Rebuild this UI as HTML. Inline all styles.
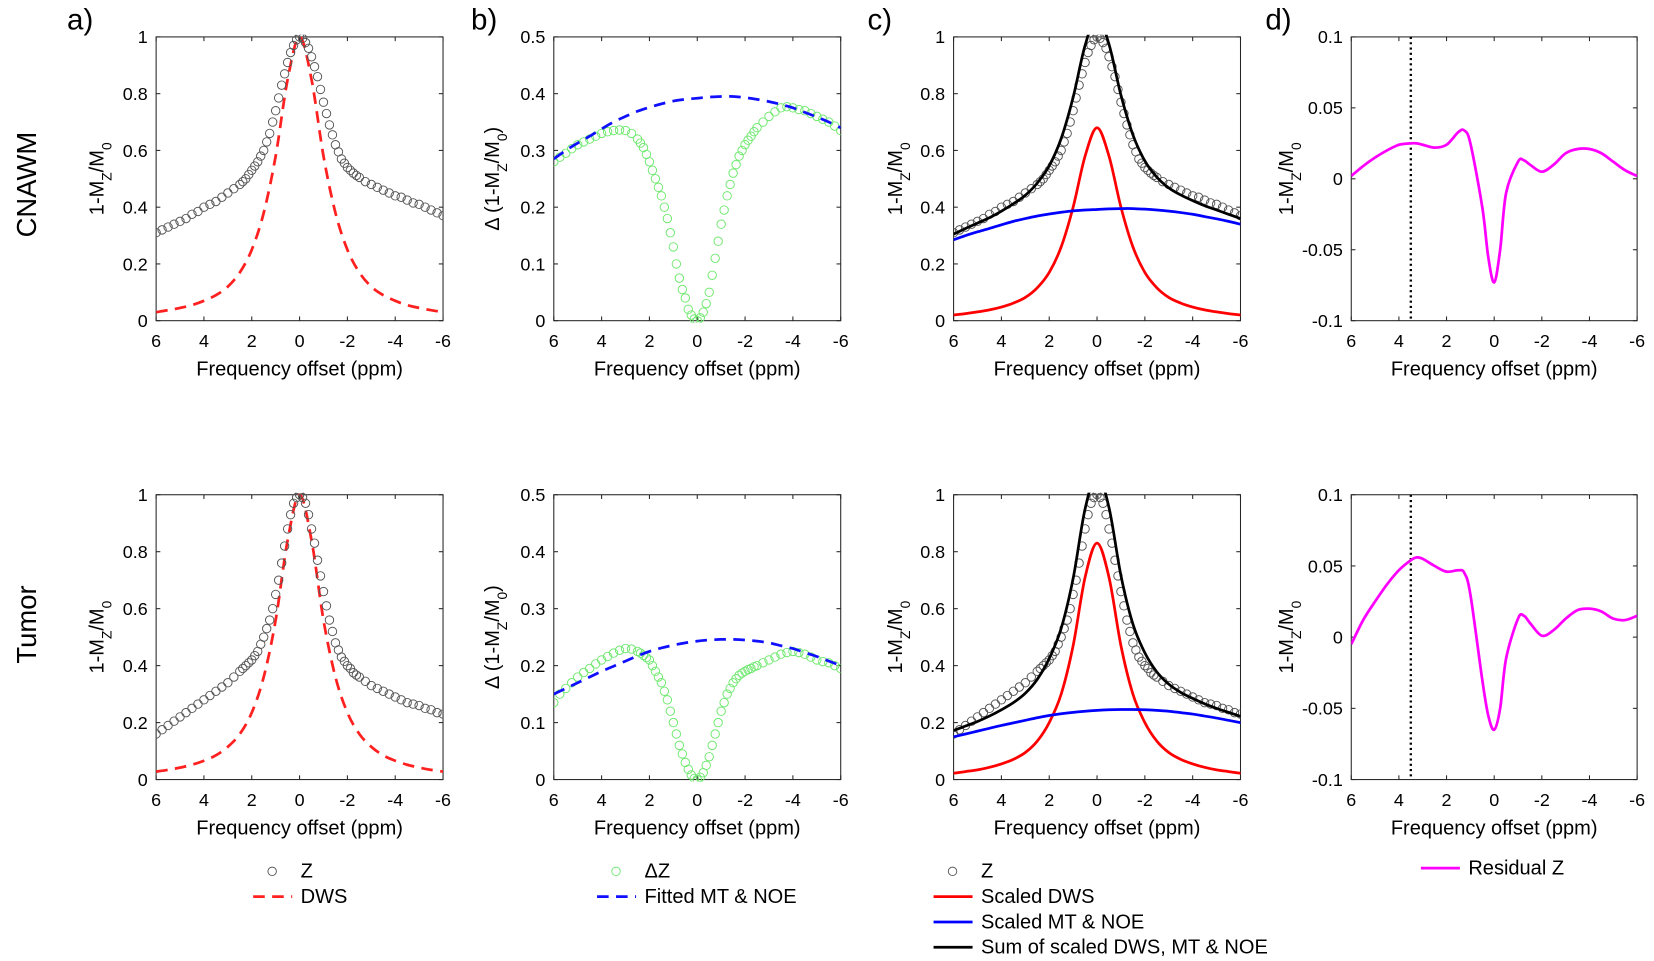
<!DOCTYPE html>
<html><head><meta charset="utf-8"><style>
html,body{margin:0;padding:0;background:#fff;}
svg{display:block;font-family:"Liberation Sans",sans-serif;}
</style></head><body>
<svg id="fig" width="1654" height="961" viewBox="0 0 1568 911" preserveAspectRatio="none" xmlns="http://www.w3.org/2000/svg"></svg>
<script>
// ---- data (x offsets in ppm) ----
const xZ = [6,5.75,5.5,5.25,5,4.75,4.5,4.25,4,3.75,3.5,3.25,3,2.75,
 2.5,2.375,2.25,2.125,2,1.875,1.75,1.625,1.5,1.375,1.25,1.125,1,0.875,0.75,0.625,0.5,0.375,0.25,0.125,0,
 -0.125,-0.25,-0.375,-0.5,-0.625,-0.75,-0.875,-1,-1.125,-1.25,-1.375,-1.5,-1.625,-1.75,-1.875,-2,-2.125,-2.25,-2.375,-2.5,
 -2.75,-3,-3.25,-3.5,-3.75,-4,-4.25,-4.5,-4.75,-5,-5.25,-5.5,-5.75,-6];
const zCnawm = [0.31,0.32,0.33,0.34,0.35,0.36,0.375,0.385,0.40,0.41,0.42,0.435,0.45,0.465,
 0.48,0.49,0.50,0.515,0.53,0.545,0.56,0.58,0.60,0.63,0.66,0.70,0.74,0.785,0.83,0.87,0.91,0.945,0.97,0.99,1.0,
 0.995,0.98,0.96,0.93,0.895,0.86,0.815,0.77,0.73,0.69,0.655,0.62,0.595,0.57,0.555,0.54,0.53,0.52,0.512,0.505,
 0.49,0.48,0.47,0.46,0.45,0.44,0.435,0.425,0.415,0.41,0.40,0.39,0.38,0.37];
const zTumor = [0.16,0.175,0.19,0.205,0.22,0.235,0.25,0.265,0.28,0.295,0.31,0.325,0.34,0.36,
 0.38,0.39,0.40,0.41,0.42,0.435,0.45,0.475,0.50,0.53,0.56,0.60,0.65,0.70,0.76,0.82,0.88,0.93,0.97,0.99,1.0,
 0.99,0.97,0.93,0.88,0.83,0.77,0.715,0.66,0.61,0.56,0.52,0.48,0.455,0.43,0.415,0.40,0.39,0.375,0.367,0.36,
 0.345,0.33,0.32,0.31,0.30,0.29,0.28,0.27,0.265,0.26,0.25,0.245,0.235,0.23];
const dzCnawm = [0.28,0.288,0.295,0.303,0.31,0.315,0.32,0.325,0.33,0.333,0.335,0.336,0.335,0.33,
 0.32,0.313,0.305,0.293,0.28,0.265,0.25,0.235,0.22,0.20,0.18,0.155,0.13,0.10,0.075,0.055,0.04,0.02,0.01,0.003,0.0,
 0.005,0.015,0.03,0.05,0.08,0.11,0.14,0.17,0.195,0.22,0.24,0.26,0.275,0.29,0.30,0.31,0.318,0.325,0.333,0.34,
 0.35,0.36,0.368,0.375,0.377,0.375,0.372,0.37,0.365,0.36,0.355,0.35,0.343,0.335];
const dzTumor = [0.135,0.15,0.16,0.17,0.18,0.188,0.195,0.203,0.21,0.216,0.222,0.227,0.23,0.229,
 0.225,0.222,0.218,0.214,0.21,0.20,0.19,0.18,0.17,0.155,0.14,0.12,0.10,0.08,0.06,0.045,0.03,0.018,0.008,0.002,0.0,
 0.004,0.012,0.025,0.04,0.06,0.08,0.10,0.12,0.135,0.15,0.16,0.17,0.177,0.183,0.187,0.19,0.193,0.195,0.198,0.20,
 0.205,0.21,0.215,0.22,0.223,0.225,0.223,0.22,0.215,0.21,0.207,0.205,0.2,0.195];
const xL = [6,5.5,5,4.5,4,3.5,3,2.5,2,1.5,1,0.5,0,-0.5,-1,-1.5,-2,-2.5,-3,-3.5,-4,-4.5,-5,-5.5,-6];
const dwsCnawm = [0.03,0.037,0.045,0.055,0.07,0.09,0.12,0.17,0.25,0.38,0.58,0.85,1.0,0.85,0.58,0.38,0.25,0.17,0.12,0.09,0.07,0.055,0.045,0.037,0.03];
const dwsTumor = [0.028,0.034,0.042,0.052,0.066,0.085,0.115,0.16,0.235,0.36,0.56,0.84,1.0,0.84,0.56,0.36,0.235,0.16,0.115,0.085,0.066,0.052,0.042,0.034,0.028];
const mtCnawm = [0.285,0.30,0.313,0.325,0.338,0.35,0.36,0.369,0.376,0.382,0.387,0.39,0.392,0.394,0.395,0.395,0.393,0.39,0.386,0.381,0.375,0.367,0.359,0.35,0.34];
const mtTumor = [0.15,0.16,0.17,0.18,0.19,0.199,0.208,0.217,0.225,0.231,0.236,0.24,0.243,0.245,0.246,0.246,0.245,0.243,0.24,0.235,0.23,0.223,0.216,0.208,0.20];
const sdwsCnawm = [0.02,0.025,0.031,0.038,0.048,0.062,0.082,0.116,0.17,0.26,0.40,0.58,0.68,0.58,0.40,0.26,0.17,0.116,0.082,0.062,0.048,0.038,0.031,0.025,0.02];
const sdwsTumor = [0.022,0.028,0.034,0.043,0.055,0.071,0.095,0.135,0.20,0.30,0.47,0.71,0.83,0.71,0.47,0.30,0.20,0.135,0.095,0.071,0.055,0.043,0.034,0.028,0.022];
const xR = [6,5.5,5,4.5,4,3.5,3.25,3,2.5,2,1.5,1.25,1,0.5,0.25,0,-0.25,-0.5,-1,-1.25,-1.5,-2,-2.5,-3,-3.5,-4,-4.5,-5,-5.5,-6];
const resCnawm = [0.002,0.009,0.015,0.020,0.024,0.025,0.025,0.024,0.022,0.024,0.033,0.034,0.025,-0.02,-0.055,-0.073,-0.05,-0.01,0.012,0.013,0.01,0.005,0.01,0.018,0.021,0.021,0.018,0.012,0.006,0.002];
const resTumor = [-0.005,0.012,0.025,0.037,0.047,0.054,0.056,0.055,0.05,0.046,0.047,0.045,0.03,-0.03,-0.055,-0.065,-0.05,-0.015,0.013,0.015,0.01,0.001,0.005,0.013,0.019,0.02,0.018,0.013,0.012,0.015];
const xTicks = [6,4,2,0,-2,-4,-6];
const xTickLabels = ["6","4","2","0","-2","-4","-6"];
const yTicksA = [0,0.2,0.4,0.6,0.8,1]; const yLabA=["0","0.2","0.4","0.6","0.8","1"];
const yTicksB = [0,0.1,0.2,0.3,0.4,0.5]; const yLabB=["0","0.1","0.2","0.3","0.4","0.5"];
const yTicksD = [-0.1,-0.05,0,0.05,0.1]; const yLabD=["-0.1","-0.05","0","0.05","0.1"];

const NS="http://www.w3.org/2000/svg";
const svg=document.getElementById('fig');
function mk(tag,attrs,parent){const e=document.createElementNS(NS,tag);for(const k in attrs)e.setAttribute(k,attrs[k]);(parent||svg).appendChild(e);return e;}
function txt(s,x,y,size,anchor,parent,name,rot){const t=mk('text',{x:x,y:y,'font-size':size,'text-anchor':anchor||'middle',fill:'#000'},parent);t.textContent=s;if(rot)t.setAttribute('transform',`rotate(-90 ${x} ${y})`);


return t;}
function smooth(pts){let d=`M${pts[0][0]},${pts[0][1]}`;for(let i=0;i<pts.length-1;i++){const p0=pts[i-1]||pts[i],p1=pts[i],p2=pts[i+1],p3=pts[i+2]||p2;const c1=[p1[0]+(p2[0]-p0[0])/6,p1[1]+(p2[1]-p0[1])/6],c2=[p2[0]-(p3[0]-p1[0])/6,p2[1]-(p3[1]-p1[1])/6];d+=`C${c1[0]},${c1[1]} ${c2[0]},${c2[1]} ${p2[0]},${p2[1]}`;}return d;}

function panel(name,x0,x1,y0,y1,ymin,ymax,yT,yL,ylabelHtml,ylabX){
  const g=mk('g',{});
  
  
  const sx=v=>x0+(6-v)/12*(x1-x0);
  const sy=v=>y1-(v-ymin)/(ymax-ymin)*(y1-y0);
  const box=mk('rect',{x:x0,y:y0,width:x1-x0,height:y1-y0,fill:'none',stroke:'#262626','stroke-width':1},g);
  
  
  xTicks.forEach((v,i)=>{const X=sx(v);mk('line',{x1:X,x2:X,y1:y1,y2:y1-4,stroke:'#262626'},g);mk('line',{x1:X,x2:X,y1:y0,y2:y0+4,stroke:'#262626'},g);txt(xTickLabels[i],X,y1+25,17,'middle',g,'x-tick-label');});
  yT.forEach((v,i)=>{const Y=sy(v);mk('line',{x1:x0,x2:x0+4,y1:Y,y2:Y,stroke:'#262626'},g);mk('line',{x1:x1,x2:x1-4,y1:Y,y2:Y,stroke:'#262626'},g);txt(yL[i],x0-8,Y+6,17,'end',g,'y-tick-label');});
  txt('Frequency offset (ppm)',(x0+x1)/2,y1+52,19,'middle',g,'x-axis-title');
  const yl=mk('text',{x:ylabX,y:(y0+y1)/2,'font-size':19,'text-anchor':'middle',transform:`rotate(-90 ${ylabX} ${(y0+y1)/2})`},g);
  yl.innerHTML=ylabelHtml;
  
  
  const clipId='c'+name;const cp=mk('clipPath',{id:clipId},g);mk('rect',{x:x0,y:y0-2,width:x1-x0,height:y1-y0+4},cp);
  const plot=mk('g',{'clip-path':`url(#${clipId})`},g);
  return {g:plot,sx,sy,x0,x1,y0,y1};
}
function line(P,xs,ys,color,dash,name,w){const pts=xs.map((x,i)=>[P.sx(x),P.sy(ys[i])]);const p=mk('path',{d:smooth(pts),fill:'none',stroke:color,'stroke-width':w||2.6,'stroke-dasharray':dash||'none'},P.g);

}
function markers(P,xs,ys,color,name){const g=mk('g',{},P.g);


xs.forEach((x,i)=>mk('circle',{cx:P.sx(x),cy:P.sy(ys[i]),r:4,fill:'none',stroke:color,'stroke-width':0.9},g));}

const YL='1-M<tspan baseline-shift="sub" font-size="13">Z</tspan>/M<tspan baseline-shift="sub" font-size="13">0</tspan>';
const YLB='Δ (1-M<tspan baseline-shift="sub" font-size="13">Z</tspan>/M<tspan baseline-shift="sub" font-size="13">0</tspan>)';
const rows=[{y0:35,y1:304,z:zCnawm,dws:dwsCnawm,dz:dzCnawm,mt:mtCnawm,sd:sdwsCnawm,res:resCnawm,n:'cnawm'},
            {y0:469,y1:739,z:zTumor,dws:dwsTumor,dz:dzTumor,mt:mtTumor,sd:sdwsTumor,res:resTumor,n:'tumor'}];
rows.forEach(r=>{
  const A=panel('panel-a-'+r.n,148,420,r.y0,r.y1,0,1,yTicksA,yLabA,YL,98);
  line(A,xL,r.dws,'#ff2020','11,7','dws-line');
  markers(A,xZ,r.z,'#555','z-markers');
  const B=panel('panel-b-'+r.n,525,797,r.y0,r.y1,0,0.5,yTicksB,yLabB,YLB,473);
  markers(B,xZ,r.dz,'#6ee86e','delta-z-markers');
  line(B,xL,r.mt,'#1010ff','11,7','fitted-mt-noe-line');
  const C=panel('panel-c-'+r.n,904,1176,r.y0,r.y1,0,1,yTicksA,yLabA,YL,855);
  markers(C,xZ,r.z,'#555','z-markers');
  line(C,xL,r.sd,'#ff0000',null,'scaled-dws-line');
  line(C,xL,r.mt,'#0000ff',null,'scaled-mt-noe-line');
  line(C,xL,r.sd.map((v,i)=>v+r.mt[i]),'#000',null,'sum-line');
  const D=panel('panel-d-'+r.n,1281,1552,r.y0,r.y1,-0.1,0.1,yTicksD,yLabD,YL,1226);
  const vx=D.sx(3.5);const vl=mk('line',{x1:vx,x2:vx,y1:r.y0,y2:r.y1,stroke:'#000','stroke-width':2.2,'stroke-dasharray':'2,3'},D.g);
  
  
  line(D,xR,r.res,'#ff00ff',null,'residual-line');
});
txt('a)',76,28,28,'middle',svg,'panel-label-a');
txt('b)',459,28,28,'middle',svg,'panel-label-b');
txt('c)',834,28,28,'middle',svg,'panel-label-c');
txt('d)',1212,28,28,'middle',svg,'panel-label-d');
txt('CNAWM',34,175,26,'middle',svg,'row-label-cnawm',true);
txt('Tumor',34,592,26,'middle',svg,'row-label-tumor',true);

function leg(name,items){const g=mk('g',{});


items.forEach(it=>{if(it.type==='m')mk('circle',{cx:it.lx+18,cy:it.y-6,r:4,fill:'none',stroke:it.c,'stroke-width':0.9},g);
else mk('line',{x1:it.lx,x2:it.lx+37,y1:it.y-6,y2:it.y-6,stroke:it.c,'stroke-width':2.6,'stroke-dasharray':it.d||'none'},g);
txt(it.t,it.lx+45,it.y,19,'start',g,'legend-entry');});}
leg('legend-a',[{type:'m',c:'#555',lx:240,y:832,t:'Z'},{type:'l',c:'#ff2020',d:'11,7',lx:240,y:856,t:'DWS'}]);
leg('legend-b',[{type:'m',c:'#6ee86e',lx:566,y:832,t:'ΔZ'},{type:'l',c:'#1010ff',d:'11,7',lx:566,y:856,t:'Fitted MT & NOE'}]);
leg('legend-c',[{type:'m',c:'#555',lx:885,y:832,t:'Z'},{type:'l',c:'#ff0000',lx:885,y:856,t:'Scaled DWS'},{type:'l',c:'#0000ff',lx:885,y:880,t:'Scaled MT & NOE'},{type:'l',c:'#000',lx:885,y:904,t:'Sum of scaled DWS, MT & NOE'}]);
leg('legend-d',[{type:'l',c:'#ff00ff',lx:1347,y:829,t:'Residual Z'}]);
</script>
</body></html>
